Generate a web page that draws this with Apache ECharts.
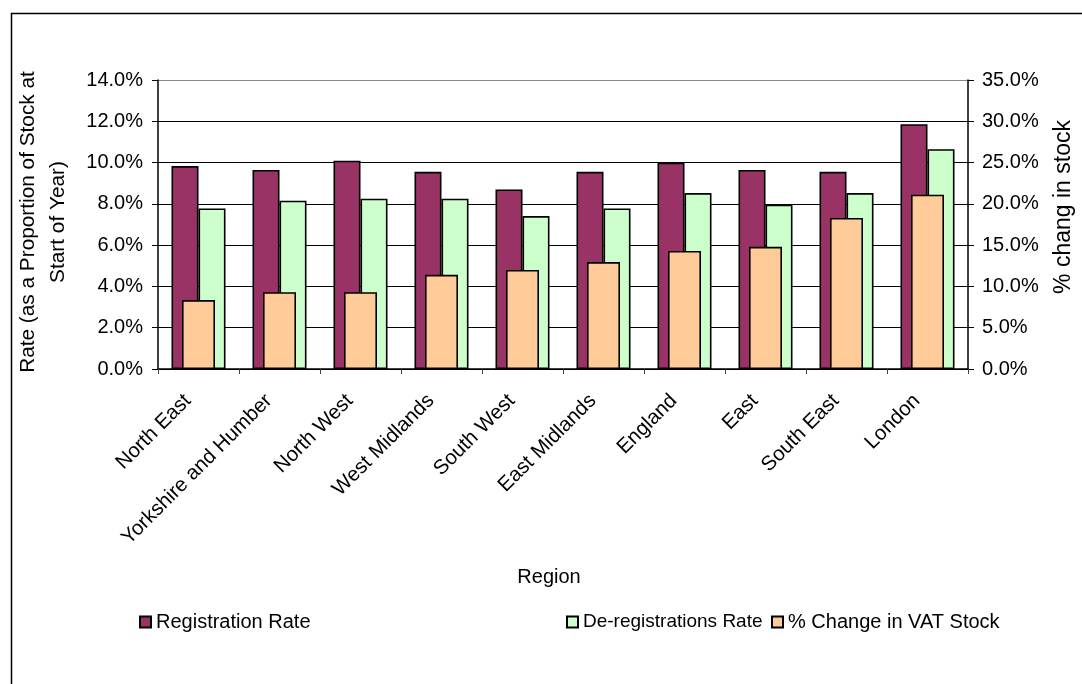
<!DOCTYPE html>
<html>
<head>
<meta charset="utf-8">
<title>Registration and De-registration Rates by Region</title>
<script src="https://cdn.jsdelivr.net/npm/echarts@6/dist/echarts.min.js"></script>
<style>
  html, body { margin: 0; padding: 0; background: #fff; }
  #chart { width: 1082px; height: 684px; }
</style>
</head>
<body>
<div id="chart"></div>
<script>
// Regions, in the order drawn along the category axis
const regions = ['North East', 'Yorkshire and Humber', 'North West', 'West Midlands', 'South West',
                 'East Midlands', 'England', 'East', 'South East', 'London'];

// Rates as a proportion of stock at start of year (%), left axis
const registrationRate = [9.83, 9.64, 10.09, 9.55, 8.70, 9.55, 10.0, 9.64, 9.55, 11.86];
const deregistrationRate = [7.78, 8.15, 8.25, 8.25, 7.41, 7.78, 8.52, 7.96, 8.52, 10.65];

// % change in VAT stock, right axis
const changeInStock = [8.35, 9.3, 9.3, 11.4, 12.0, 12.95, 14.3, 14.8, 18.3, 21.1];

// Axis tick settings (percent)
const leftAxis = { min: 0, max: 14, interval: 2 };
const rightAxis = { min: 0, max: 35, interval: 5 };

const FONT = "'Liberation Sans', Arial, sans-serif";
const pct = v => v.toFixed(1) + '%';

const chart = echarts.init(document.getElementById('chart'), null, { renderer: 'canvas' });

const barBorder = { borderColor: '#000', borderWidth: 1.6 };
const legendBase = { icon: 'rect', itemWidth: 11, itemHeight: 11, itemGap: 8 };

chart.setOption({
  animation: false,
  backgroundColor: '#fff',
  textStyle: { fontFamily: FONT, color: '#000' },
  grid: { left: 158, right: 114, top: 80, bottom: 315, containLabel: false },
  legend: [
    Object.assign({
      data: ['Registration Rate'], left: 134, top: 607,
      textStyle: { fontFamily: FONT, fontSize: 20, color: '#000' }
    }, legendBase),
    Object.assign({
      data: ['De-registrations Rate'], left: 561, top: 607.5,
      textStyle: { fontFamily: FONT, fontSize: 19, color: '#000' }
    }, legendBase),
    Object.assign({
      data: ['% Change in VAT Stock'], left: 766, top: 607,
      textStyle: { fontFamily: FONT, fontSize: 20, color: '#000' }
    }, legendBase)
  ],
  xAxis: [
    {
      type: 'category',
      data: regions,
      boundaryGap: true,
      axisLine: { lineStyle: { color: '#000', width: 1.5 } },
      axisTick: { show: true, length: 5, lineStyle: { color: '#444' } },
      axisLabel: {
        rotate: 45, margin: 18, interval: 0, padding: [0, 15, 0, 0],
        fontFamily: FONT, fontSize: 20.5, color: '#000'
      }
    },
    {
      type: 'category',
      data: regions,
      show: false
    }
  ],
  yAxis: [
    {
      type: 'value',
      min: leftAxis.min, max: leftAxis.max, interval: leftAxis.interval,
      axisLine: { show: true, lineStyle: { color: '#000', width: 1.5 } },
      axisTick: { show: true, length: 6, lineStyle: { color: '#000' } },
      axisLabel: { formatter: pct, margin: 15, fontFamily: FONT, fontSize: 20, color: '#000' },
      splitLine: {
        show: true,
        lineStyle: { color: ['#000', '#000', '#000', '#000', '#000', '#000', '#000', '#888'], width: 1 }
      }
    },
    {
      type: 'value',
      position: 'right',
      min: rightAxis.min, max: rightAxis.max, interval: rightAxis.interval,
      axisLine: { show: true, lineStyle: { color: '#000', width: 1.5 } },
      axisTick: { show: true, length: 6, lineStyle: { color: '#000' } },
      axisLabel: { formatter: pct, margin: 14, fontFamily: FONT, fontSize: 20, color: '#000' },
      splitLine: { show: false }
    }
  ],
  series: [
    {
      name: 'Registration Rate',
      type: 'bar',
      xAxisIndex: 0, yAxisIndex: 0,
      data: registrationRate,
      barWidth: 27, barGap: '0%',
      itemStyle: Object.assign({ color: '#993366' }, barBorder)
    },
    {
      name: 'De-registrations Rate',
      type: 'bar',
      xAxisIndex: 0, yAxisIndex: 0,
      data: deregistrationRate,
      barWidth: 27, barGap: '0%',
      itemStyle: Object.assign({ color: '#CCFFCC' }, barBorder)
    },
    {
      name: '% Change in VAT Stock',
      type: 'bar',
      xAxisIndex: 1, yAxisIndex: 1,
      data: changeInStock,
      barWidth: 33,
      z: 3,
      itemStyle: Object.assign({ color: '#FFCC99' }, barBorder)
    }
  ],
  graphic: [
    // outer chart frame
    {
      type: 'rect', z: -1, silent: true,
      shape: { x: 11.5, y: 13.5, width: 1100, height: 700 },
      style: { fill: 'none', stroke: '#000', lineWidth: 1.5 }
    },
    // left axis title (two lines)
    {
      type: 'text', silent: true,
      x: 28, y: 222, rotation: Math.PI / 2,
      style: {
        text: 'Rate (as a Proportion of Stock at',
        font: '20.8px ' + FONT, fill: '#000', align: 'center', verticalAlign: 'middle'
      }
    },
    {
      type: 'text', silent: true,
      x: 58, y: 222, rotation: Math.PI / 2,
      style: {
        text: 'Start of Year)',
        font: '20.8px ' + FONT, fill: '#000', align: 'center', verticalAlign: 'middle'
      }
    },
    // right axis title
    {
      type: 'text', silent: true,
      x: 1064, y: 207, rotation: Math.PI / 2,
      style: {
        text: '% chang in stock',
        font: '23px ' + FONT, fill: '#000', align: 'center', verticalAlign: 'middle'
      }
    },
    // category axis title
    {
      type: 'text', silent: true,
      x: 549, y: 577,
      style: {
        text: 'Region',
        font: '20px ' + FONT, fill: '#000', align: 'center', verticalAlign: 'middle'
      }
    }
  ]
});
</script>
</body>
</html>
